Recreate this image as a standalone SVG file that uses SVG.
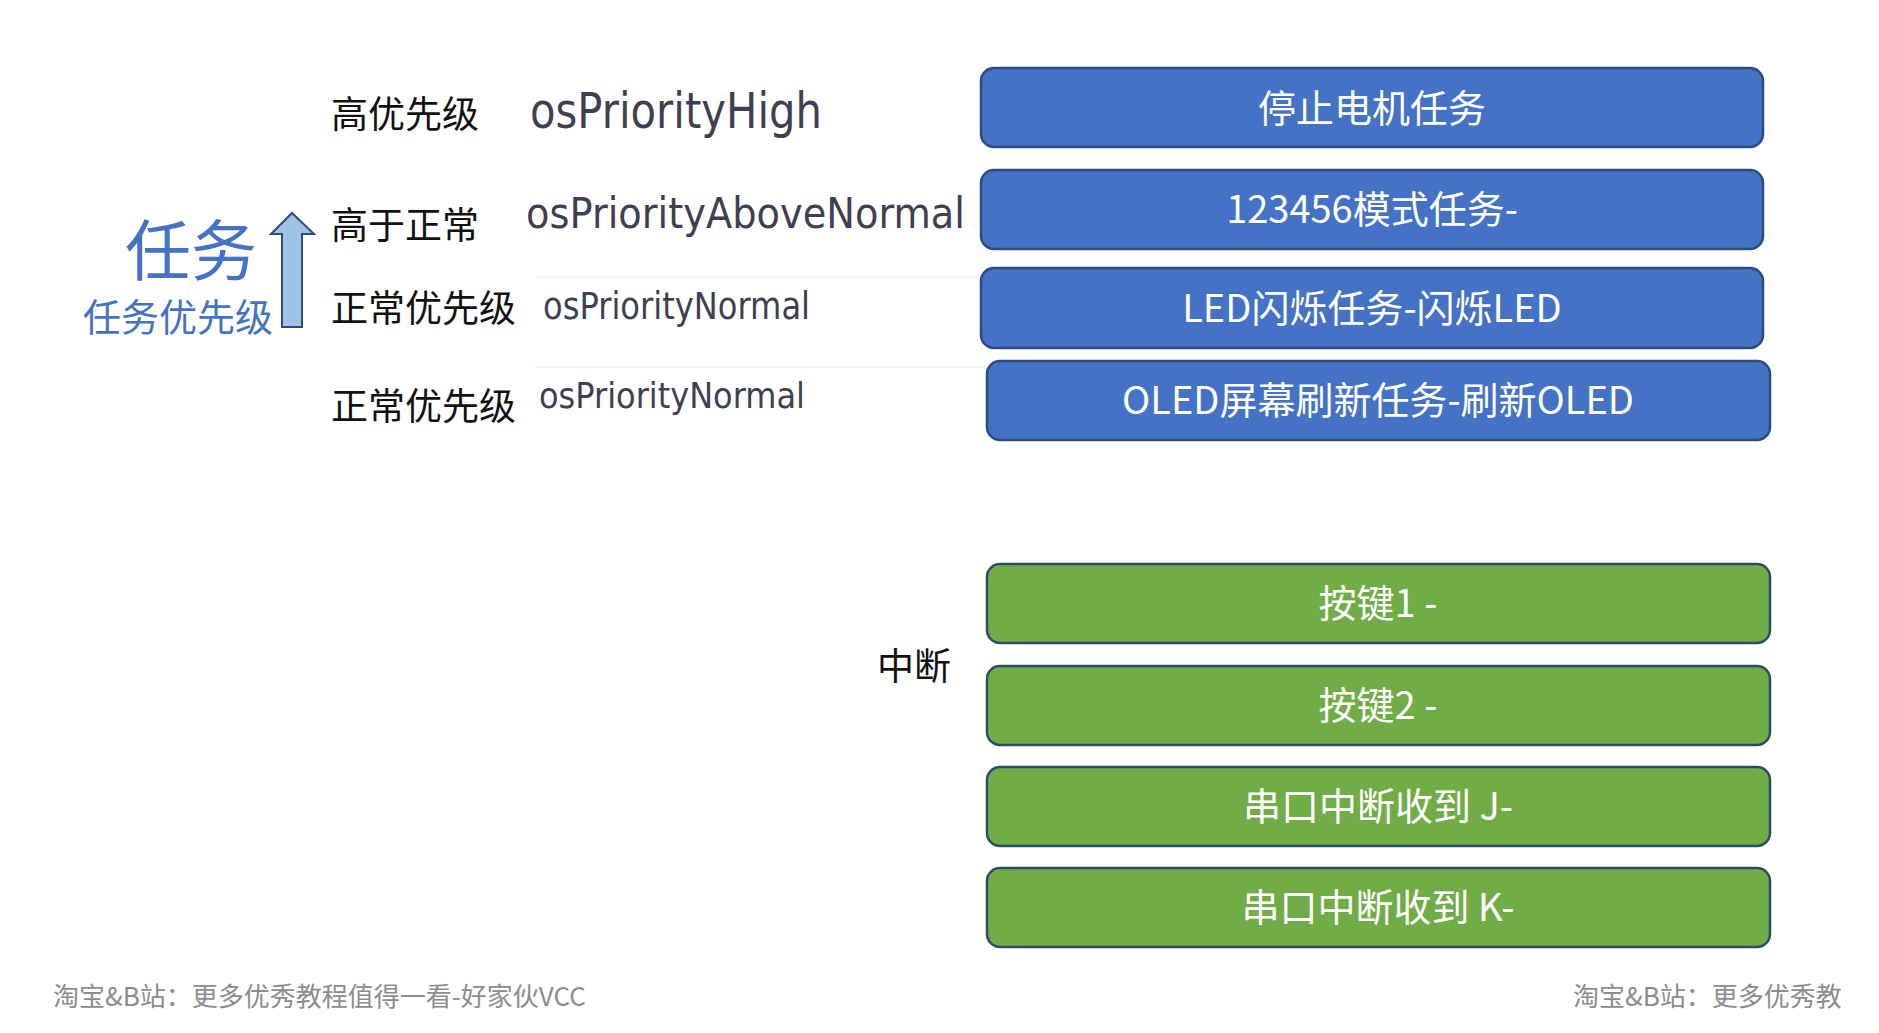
<svg xmlns="http://www.w3.org/2000/svg" width="1879" height="1033" viewBox="0 0 1879 1033">
  <style>
    .cjk { font-family: "Noto Sans CJK SC", "Noto Sans", sans-serif; }
    .box-blue { fill: #4472C4; stroke: #2F4B7C; stroke-width: 2.5; }
    .box-green { fill: #70AD47; stroke: #2F4B6C; stroke-width: 2.5; }
    .box-text { font-family: "Noto Sans CJK SC", "Noto Sans", sans-serif; font-size: 38px; fill: #FFFFFF; text-anchor: middle; }
    .label { font-family: "Noto Sans CJK SC", sans-serif; font-size: 37px; fill: #111111; }
    .os { font-family: "DejaVu Sans", "Liberation Sans", sans-serif; fill: #3f3f52; }
    .footer { font-family: "Noto Sans CJK SC", sans-serif; font-size: 26px; fill: #8c8c8c; }
    .blue-title { font-family: "Noto Sans CJK SC", sans-serif; fill: #4472C4; }
    .sep { stroke: #ececec; stroke-width: 1; }
  </style>

  <rect width="1879" height="1033" fill="#FFFFFF"/>

  <g id="priority-title">
    <text class="blue-title" x="125" y="275" font-size="66">任务</text>
    <text class="blue-title" x="83" y="331" font-size="38">任务优先级</text>
  </g>

  <g id="connectors">
    <path id="priority-arrow" d="M292,213 L314,234 L302,234 L302,327 L282,327 L282,234 L271,234 Z" fill="#9DC3E6" stroke="#2F4B7C" stroke-width="2" stroke-linejoin="miter"/>
  </g>

  <g id="priority-labels">
    <text class="label" x="331" y="128">高优先级</text>
    <text class="label" x="331" y="239">高于正常</text>
    <text class="label" x="331" y="322">正常优先级</text>
    <text class="label" x="331" y="420">正常优先级</text>
  </g>

  <g id="os-priorities">
    <text class="os" x="530" y="128" font-size="50" textLength="292" lengthAdjust="spacingAndGlyphs">osPriorityHigh</text>
    <text class="os" x="526" y="228" font-size="43" textLength="439" lengthAdjust="spacingAndGlyphs">osPriorityAboveNormal</text>
    <line class="sep" x1="537" y1="277" x2="977" y2="277"/>
    <text class="os" x="543" y="319" font-size="37" textLength="267" lengthAdjust="spacingAndGlyphs">osPriorityNormal</text>
    <line class="sep" x1="535" y1="367" x2="987" y2="367"/>
    <text class="os" x="539" y="408" font-size="36" textLength="266" lengthAdjust="spacingAndGlyphs">osPriorityNormal</text>
  </g>

  <g id="task-stop-motor">
    <rect class="box-blue" x="981" y="68" width="782" height="79" rx="13"/>
    <text class="box-text" x="1372" y="122">停止电机任务</text>
  </g>
  <g id="task-mode">
    <rect class="box-blue" x="981" y="170" width="782" height="79" rx="13"/>
    <text class="box-text" x="1372" y="223">123456模式任务-</text>
  </g>
  <g id="task-led">
    <rect class="box-blue" x="981" y="268" width="782" height="80" rx="13"/>
    <text class="box-text" x="1372" y="322">LED闪烁任务-闪烁LED</text>
  </g>
  <g id="task-oled">
    <rect class="box-blue" x="987" y="361" width="783" height="79" rx="13"/>
    <text class="box-text" x="1378" y="414">OLED屏幕刷新任务-刷新OLED</text>
  </g>

  <g id="interrupt-label">
    <text class="label" x="877" y="680" font-size="36">中断</text>
  </g>

  <g id="irq-key1">
    <rect class="box-green" x="987" y="564" width="783" height="79" rx="13"/>
    <text class="box-text" x="1378" y="617">按键1 -</text>
  </g>
  <g id="irq-key2">
    <rect class="box-green" x="987" y="666" width="783" height="79" rx="13"/>
    <text class="box-text" x="1378" y="719">按键2 -</text>
  </g>
  <g id="irq-uart-j">
    <rect class="box-green" x="987" y="767" width="783" height="79" rx="13"/>
    <text class="box-text" x="1378" y="820">串口中断收到 J-</text>
  </g>
  <g id="irq-uart-k">
    <rect class="box-green" x="987" y="868" width="783" height="79" rx="13"/>
    <text class="box-text" x="1378" y="921">串口中断收到 K-</text>
  </g>

  <g id="footer">
    <text class="footer" x="53" y="1006">淘宝&amp;B站：更多优秀教程值得一看-好家伙VCC</text>
    <text class="footer" x="1573" y="1006">淘宝&amp;B站：更多优秀教</text>
  </g>
</svg>
